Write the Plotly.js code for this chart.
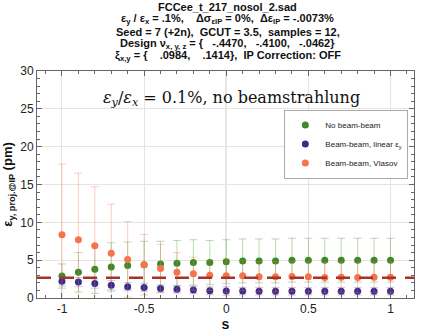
<!DOCTYPE html>
<html>
<head>
<meta charset="utf-8">
<script src="https://cdn.plot.ly/plotly-3.0.1.min.js"></script>
<style>body{margin:0;background:#fff}#plot{width:426px;height:332px}</style>
</head>
<body>
<div id="plot"></div>
<script>
// emittance vs s, three cases
var s = [-1, -0.9, -0.8, -0.7, -0.6, -0.5, -0.4, -0.3, -0.2, -0.1, 0,
         0.1, 0.2, 0.3, 0.4, 0.5, 0.6, 0.7, 0.8, 0.9, 1];

var noBB    = [2.9, 3.4, 3.8, 4.1, 4.3, 4.4, 4.5, 4.6, 4.7, 4.7, 4.8,
               4.9, 4.9, 4.9, 5.0, 5.0, 5.0, 5.0, 5.0, 5.0, 5.0];
var noBBErr = [1.6, 2.6, 3.2, 3.2, 3.1, 3.1, 3.0, 3.0, 3.0, 2.9, 2.9,
               2.9, 2.9, 2.9, 2.9, 2.9, 2.9, 2.9, 2.9, 2.9, 2.9];

var linBB    = [2.2, 2.1, 1.9, 1.7, 1.5, 1.4, 1.25, 1.15, 1.05, 0.97, 0.93,
                0.92, 0.9, 0.9, 0.9, 0.9, 0.9, 0.9, 0.9, 0.9, 0.9];
var linBBErr = [0.6, 0.6, 0.6, 0.6, 0.55, 0.55, 0.5, 0.5, 0.5, 0.5, 0.55,
                0.5, 0.5, 0.5, 0.5, 0.5, 0.5, 0.5, 0.5, 0.5, 0.5];

var vlasov    = [8.35, 7.7, 6.9, 5.9, 5.1, 4.4, 3.9, 3.4, 3.2, 3.0, 2.95,
                 2.95, 2.8, 2.8, 2.85, 2.8, 2.7, 2.75, 2.7, 2.75, 2.75];
var vlasovErr = [9.35, 8.8, 7.8, 6.5, 5.0, 4.0, 3.2, 2.6, 2.2, 2.0, 2.2,
                 2.0, 2.0, 2.0, 2.0, 2.0, 2.0, 2.0, 2.0, 2.0, 2.0];

var refLevel = 2.68;
var xRange = [-1.152, 1.143];

var titleLines = [
  "FCCee_t_217_nosol_2.sad",
  "ε<sub>y</sub> / ε<sub>x</sub> = .1%,    Δσ<sub>εIP</sub> = 0%,  Δε<sub>IP</sub> = -.0073%",
  "Seed = 7 (+2n),  GCUT = 3.5,  samples = 12,",
  "Design ν<sub>x, y, z</sub> = {   -.4470,   -.4100,   -.0462}",
  "ξ<sub>x,y</sub> = {    .0984,    .1414},  IP Correction: OFF"
];

var green = "#3c8a28", purple = "#3b2c8c", orange = "#f7734c";
var sans = "Arial, Liberation Sans, sans-serif";

function trace(y, err, name, col, errCol) {
  return {
    x: s, y: y, name: name, type: "scatter", mode: "markers",
    marker: {color: col, size: 7},
    error_y: {type: "data", array: err, visible: true, color: errCol, thickness: 1, width: 4}
  };
}

var data = [
  trace(noBB, noBBErr, "No beam-beam", green, "rgba(60,150,40,0.35)"),
  trace(linBB, linBBErr, "Beam-beam, linear ε<sub>y</sub>", purple, "rgba(90,70,170,0.3)"),
  trace(vlasov, vlasovErr, "Beam-beam, Vlasov", orange, "rgba(247,115,76,0.35)"),
  {x: xRange, y: [refLevel, refLevel], mode: "lines", showlegend: false, hoverinfo: "skip",
   line: {color: "#a8322a", width: 2.5, dash: "14px,9px"}}
];

var axisCommon = {
  showline: true, linecolor: "#666", linewidth: 1, mirror: "ticks",
  ticks: "inside", ticklen: 5, tickcolor: "#666",
  showgrid: true, gridcolor: "#e4e4e4", zeroline: false,
  tickfont: {family: sans, size: 12, color: "#222"}
};

// title block, one annotation per line (tight line spacing)
var annots = titleLines.map(function(line, i) {
  return {
    xref: "paper", yref: "paper", x: 0.506, y: (298 - (7 + 12.3 * i)) / 227,
    xanchor: "center", yanchor: "middle", showarrow: false,
    text: "<b>" + line + "</b>",
    font: {family: sans, size: 11, color: "#111"}
  };
});

annots.push({
  xref: "paper", yref: "paper", x: 0.517, y: 0.877, xanchor: "center", yanchor: "middle",
  showarrow: false,
  text: "<i>ε<sub>y</sub></i>/<i>ε<sub>x</sub></i> = 0.1%, no beamstrahlung",
  font: {family: "DejaVu Serif, Liberation Serif, serif", size: 16, color: "#111"}
});

var layout = {
  width: 426, height: 332,
  margin: {l: 37, r: 12, t: 71, b: 34},
  paper_bgcolor: "#fff", plot_bgcolor: "#fff",
  showlegend: true,
  xaxis: Object.assign({}, axisCommon, {
    range: xRange, tickvals: [-1, -0.5, 0, 0.5, 1], ticktext: ["-1", "-0.5", "0", "0.5", "1"],
    minor: {dtick: 0.1, ticks: "inside", ticklen: 3, tickcolor: "#666", showgrid: false},
    title: {text: "<b>s</b>", font: {family: sans, size: 14, color: "#111"}, standoff: 4}
  }),
  yaxis: Object.assign({}, axisCommon, {
    range: [0, 30], dtick: 5,
    minor: {dtick: 1, ticks: "inside", ticklen: 3, tickcolor: "#666", showgrid: false},
    title: {text: "<b>ε<sub>y, proj.@IP</sub> (pm)</b>", font: {family: sans, size: 13, color: "#111"}, standoff: 6}
  }),
  shapes: [
    {type: "line", xref: "x", yref: "paper", x0: 0, x1: 0, y0: 0, y1: 1, line: {color: "#aaa", width: 1}, layer: "below"}
  ],
  legend: {
    x: 0.985, y: 0.83, xanchor: "right", yanchor: "top",
    bgcolor: "#fff", bordercolor: "#aaa", borderwidth: 1,
    font: {family: sans, size: 8, color: "#222"},
    itemsizing: "trace", itemwidth: 30, tracegroupgap: 0
  },
  annotations: annots
};

Plotly.newPlot("plot", data, layout, {displayModeBar: false, staticPlot: true});
</script>
</body>
</html>
